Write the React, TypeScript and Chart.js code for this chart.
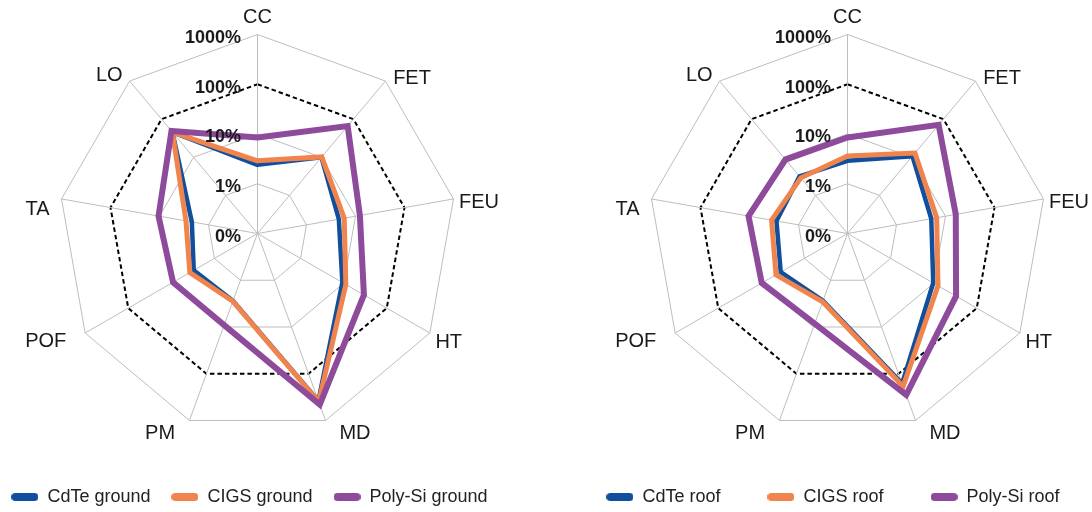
import React, { useEffect, useRef } from 'react';
import { Chart, registerables } from 'chart.js';

Chart.register(...registerables);

// ---- data ----
const categories = ['CC', 'FET', 'FEU', 'HT', 'MD', 'PM', 'POF', 'TA', 'LO'];
const tickLabels = ['0%', '1%', '10%', '100%', '1000%'];

const groundNames = ['CdTe ground', 'CIGS ground', 'Poly-Si ground'];
const roofNames = ['CdTe roof', 'CIGS roof', 'Poly-Si roof'];

// values on log-like axis: 0 -> 0%, 1 -> 1%, 2 -> 10%, 3 -> 100%, 4 -> 1000%
const cdteGround = [1.38, 2.0, 1.66, 1.97, 3.58, 1.44, 1.48, 1.34, 2.66];
const cigsGround = [1.46, 2.01, 1.77, 2.05, 3.6, 1.45, 1.57, 1.46, 2.66];
const polySiGround = [1.93, 2.82, 2.09, 2.47, 3.66, 1.96, 1.96, 2.02, 2.69];

const cdteRoof = [1.46, 2.03, 1.71, 1.99, 3.21, 1.44, 1.55, 1.45, 1.5];
const cigsRoof = [1.56, 2.11, 1.82, 2.1, 3.27, 1.46, 1.66, 1.55, 1.46];
const polySiRoof = [1.93, 2.85, 2.21, 2.52, 3.45, 1.93, 1.99, 2.02, 1.94];

// ---- styles ----
const COLORS = ['#0F4F9E', '#F0844C', '#8E4B9B'];
const LINE_WIDTHS = [4.5, 5, 6];
const DRAW_ORDER = [3, 2, 1];
const FONT = '"Liberation Sans", Arial, Helvetica, sans-serif';
// text-centre offsets of the category labels from their outer vertex
const labelOffsets: [number, number][] = [
  [0, -17], [26.6, -3], [25.5, 3.6], [18.9, 9], [29.4, 12.5],
  [-29.4, 12.5], [-39.4, 8.7], [-24, 11], [-20.3, -5.4],
];

function makePill(color: string) {
  const c = document.createElement('canvas');
  c.width = 27;
  c.height = 8;
  const g = c.getContext('2d')!;
  g.strokeStyle = color;
  g.lineWidth = 8;
  g.lineCap = 'round';
  g.beginPath();
  g.moveTo(4, 4);
  g.lineTo(23, 4);
  g.stroke();
  return c;
}

const axisTextPlugin = {
  id: 'axisText',
  afterDatasetsDraw(chart: any) {
    const s = chart.scales.r;
    const ctx = chart.ctx;
    ctx.save();
    ctx.fillStyle = '#1a1a1a';
    ctx.textBaseline = 'middle';
    ctx.textAlign = 'center';
    ctx.font = `20px ${FONT}`;
    (chart.data.labels as string[]).forEach((lab, i) => {
      const p = s.getPointPosition(i, s.drawingArea);
      const [dx, dy] = labelOffsets[i];
      ctx.fillText(lab, p.x + dx, p.y + dy);
    });
    ctx.font = `bold 18px ${FONT}`;
    ctx.textAlign = 'right';
    s.ticks.forEach((t: any) => {
      const d = s.getDistanceFromCenterForValue(t.value);
      ctx.fillText(t.label, s.xCenter - 16.5, s.yCenter - d + 3.5);
    });
    ctx.restore();
  },
};

type PanelProps = {
  names: string[];
  series: number[][];
  left: number;
  width: number;
  centerX: number;
  legendPadding: number;
};

function RadarPanel({ names, series, left, width, centerX, legendPadding }: PanelProps) {
  const ref = useRef<HTMLCanvasElement | null>(null);

  useEffect(() => {
    if (!ref.current) return;
    const pills = COLORS.map(makePill);
    const chart = new Chart(ref.current, {
      type: 'radar',
      data: {
        labels: categories,
        datasets: series.map((vals, i) => ({
          label: names[i],
          data: vals,
          borderColor: COLORS[i],
          backgroundColor: 'transparent',
          borderWidth: LINE_WIDTHS[i],
          borderJoinStyle: 'miter',
          pointRadius: 0,
          pointHoverRadius: 0,
          fill: false,
          tension: 0,
          order: DRAW_ORDER[i],
        })),
      },
      options: {
        responsive: false,
        maintainAspectRatio: false,
        animation: false,
        devicePixelRatio: 1,
        layout: { padding: 0 },
        plugins: {
          tooltip: { enabled: false },
          legend: {
            position: 'bottom',
            labels: {
              usePointStyle: true,
              pointStyleWidth: 27,
              boxHeight: 8,
              padding: legendPadding,
              color: '#222',
              font: { family: FONT, size: 18 },
              generateLabels: (ch: any) =>
                ch.data.datasets.map((ds: any, i: number) => ({
                  text: ds.label,
                  fillStyle: COLORS[i],
                  strokeStyle: COLORS[i],
                  lineWidth: 0,
                  pointStyle: pills[i],
                  hidden: false,
                  fontColor: '#222',
                  datasetIndex: i,
                })),
            },
          },
        },
        scales: {
          r: {
            min: 0,
            max: 4,
            beginAtZero: true,
            ticks: {
              stepSize: 1,
              display: false,
              callback: (v: any) => tickLabels[Math.round(Number(v))],
            },
            pointLabels: { display: false },
            angleLines: { color: '#BDBDBD', lineWidth: 1 },
            grid: {
              color: (c: any) => (c.index === 3 ? '#000000' : '#BDBDBD'),
              lineWidth: (c: any) => (c.index === 3 ? 2 : 1),
            },
            border: {
              dash: (c: any) => (c.index === 3 ? [4.5, 3] : []),
            },
            afterFit: (s: any) => {
              s.xCenter = centerX;
              s.yCenter = 233.5;
              s.drawingArea = 199;
            },
          },
        },
      } as any,
      plugins: [axisTextPlugin],
    });
    return () => chart.destroy();
  }, []);

  return (
    <canvas
      ref={ref}
      width={width}
      height={516}
      style={{ position: 'absolute', left, top: 0, width, height: 516 }}
    />
  );
}

export default function App() {
  return (
    <div
      style={{
        position: 'fixed',
        left: 0,
        top: 0,
        width: 1092,
        height: 512,
        overflow: 'hidden',
        background: '#ffffff',
      }}
    >
      <RadarPanel
        names={groundNames}
        series={[cdteGround, cigsGround, polySiGround]}
        left={-22}
        width={543}
        centerX={279.5}
        legendPadding={21}
      />
      <RadarPanel
        names={roofNames}
        series={[cdteRoof, cigsRoof, polySiRoof]}
        left={553}
        width={560}
        centerX={294.5}
        legendPadding={47}
      />
    </div>
  );
}
